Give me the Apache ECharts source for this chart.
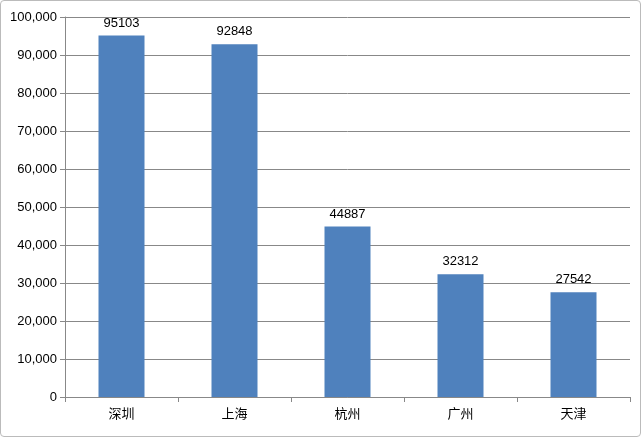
<!DOCTYPE html>
<html><head><meta charset="utf-8">
<script src="https://cdn.jsdelivr.net/npm/echarts@6/dist/echarts.min.js"></script>
<style>html,body{margin:0;padding:0;background:#fff}#c{width:641px;height:437px;box-sizing:border-box;border:1px solid #bbb;border-radius:4px}</style>
</head><body><div id="c"></div>
<script>
const categories = ['深圳','上海','杭州','广州','天津'];
const values = [95103, 92848, 44887, 32312, 27542];
const chart = echarts.init(document.getElementById('c'));
chart.setOption({
  animation:false,
  grid:{left:64,right:10,top:16,bottom:39},
  xAxis:{type:'category',data:categories,
    axisLine:{lineStyle:{color:'#888'}},axisTick:{show:true,alignWithLabel:false,lineStyle:{color:'#888'}},
    axisLabel:{color:'#000',fontSize:13,margin:10,fontFamily:'Noto Sans CJK SC'}},
  yAxis:{type:'value',min:0,max:100000,interval:10000,
    axisLine:{show:true,lineStyle:{color:'#888'}},axisTick:{show:true,lineStyle:{color:'#888'}},
    splitLine:{lineStyle:{color:'#888'}},
    axisLabel:{color:'#000',fontSize:13,fontFamily:'Liberation Sans'}},
  series:[{type:'bar',data:values,barWidth:46,itemStyle:{color:'#4f81bd'},
    label:{show:true,position:'top',color:'#000',fontSize:13,distance:6,fontFamily:'Liberation Sans'}}]
});
</script></body></html>
